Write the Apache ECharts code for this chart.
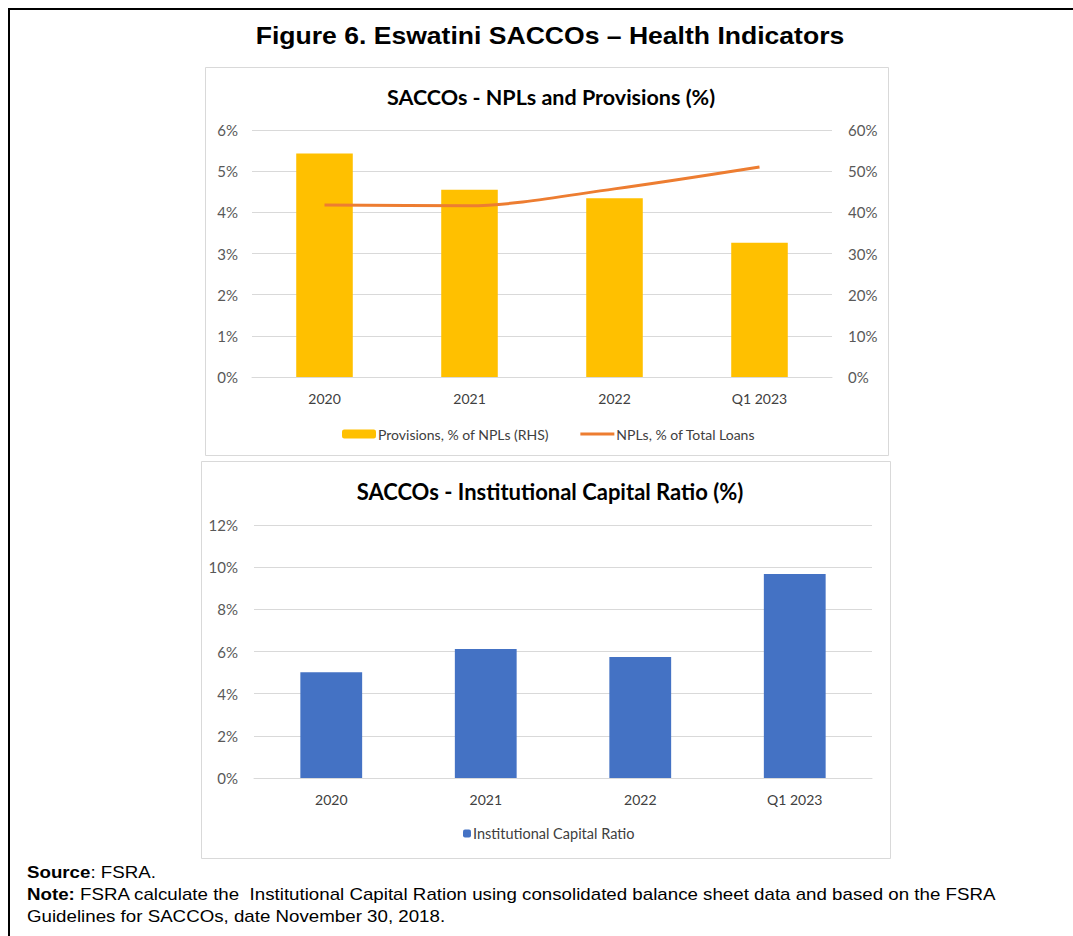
<!DOCTYPE html>
<html>
<head>
<meta charset="utf-8">
<script src="https://cdn.jsdelivr.net/npm/echarts@6/dist/echarts.min.js"></script>
<style>
  html, body { margin: 0; padding: 0; background: #ffffff; }
  #chart { width: 1073px; height: 936px; }
</style>
</head>
<body>
<div id="chart"></div>
<script>
// Periods shown on both panels
const categories = ['2020', '2021', '2022', 'Q1 2023'];
// Provisions as % of NPLs (right-hand axis)
const provisions = [54.3, 45.5, 43.4, 32.6];
// NPLs as % of total loans (left-hand axis)
const npls = [4.18, 4.16, 4.57, 5.10];
// Institutional capital ratio (%)
const capitalRatio = [5.02, 6.12, 5.74, 9.68];

const chartFont = 'Lato';
const axisGrey = '#595959';
const gridGrey = '#d9d9d9';
const wide = 1.155; // horizontal stretch of the Arial text blocks

const chart = echarts.init(document.getElementById('chart'), null, { renderer: 'svg' });

function noteText(y, text) {
  return {
    type: 'text', x: 27, y: y, scaleX: 1.17, z: 5,
    style: {
      x: 0, y: 0, text: text, verticalAlign: 'middle',
      font: '16px "Liberation Sans"', fill: '#000',
      rich: { b: { fontWeight: 'bold', fontFamily: 'Liberation Sans', fontSize: 16 } }
    }
  };
}

chart.setOption({
  animation: false,
  textStyle: { fontFamily: chartFont },
  graphic: [
    // outer frame
    { type: 'polyline', shape: { points: [[9, 940], [9, 9], [1080, 9]] },
      style: { stroke: '#000', lineWidth: 2, fill: null }, z: 0 },
    // panel frames
    { type: 'rect', shape: { x: 205.5, y: 67.5, width: 683, height: 388 },
      style: { stroke: gridGrey, lineWidth: 1, fill: '#fff' }, z: 0 },
    { type: 'rect', shape: { x: 201.5, y: 461.5, width: 689, height: 397 },
      style: { stroke: gridGrey, lineWidth: 1, fill: '#fff' }, z: 0 },
    // figure heading
    { type: 'text', x: 550, y: 36, scaleX: wide, z: 5,
      style: { x: 0, y: 0, text: 'Figure 6. Eswatini SACCOs – Health Indicators',
        align: 'center', verticalAlign: 'middle',
        font: 'bold 23px "Liberation Sans"', fill: '#000' } },
    // footnotes
    noteText(872, '{b|Source}: FSRA.'),
    noteText(894, '{b|Note:} FSRA calculate the  Institutional Capital Ration using consolidated balance sheet data and based on the FSRA'),
    noteText(916, 'Guidelines for SACCOs, date November 30, 2018.')
  ],
  title: [
    { text: 'SACCOs - NPLs and Provisions (%)', left: 546, top: 81, textAlign: 'center',
      textStyle: { fontFamily: chartFont, fontWeight: 'bold', fontSize: 21.5, color: '#000' } },
    { text: 'SACCOs - Institutional Capital Ratio (%)', left: 545, top: 475, textAlign: 'center',
      textStyle: { fontFamily: chartFont, fontWeight: 'bold', fontSize: 22, color: '#000' } }
  ],
  legend: [
    { left: 342, top: 427, padding: 0, itemWidth: 34, itemHeight: 9, itemGap: 30,
      data: [
        { name: 'Provisions, % of NPLs (RHS)' },
        { name: 'NPLs, % of Total Loans', itemStyle: { opacity: 0 }, lineStyle: { width: 3 } }
      ],
      textStyle: { fontFamily: chartFont, fontSize: 14, color: '#404040', padding: [0, 0, 0, -3] } },
    { left: 463, top: 826, padding: 0, itemWidth: 8, itemHeight: 8,
      data: ['Institutional Capital Ratio'],
      textStyle: { fontFamily: chartFont, fontSize: 14.5, color: '#404040', padding: [0, 0, 0, -3] } }
  ],
  grid: [
    { left: 252, right: 241, top: 130, height: 247 },
    { left: 254, right: 201, top: 525, height: 253 }
  ],
  xAxis: [
    { type: 'category', gridIndex: 0, data: categories,
      axisLine: { lineStyle: { color: gridGrey } }, axisTick: { show: false },
      axisLabel: { color: '#404040', fontSize: 14, margin: 14 } },
    { type: 'category', gridIndex: 1, data: categories,
      axisLine: { lineStyle: { color: gridGrey } }, axisTick: { show: false },
      axisLabel: { color: '#404040', fontSize: 14, margin: 14 } }
  ],
  yAxis: [
    { type: 'value', gridIndex: 0, min: 0, max: 6, interval: 1, position: 'left',
      axisLabel: { formatter: '{value}%', color: axisGrey, fontSize: 15, margin: 14 },
      splitLine: { lineStyle: { color: gridGrey } } },
    { type: 'value', gridIndex: 0, min: 0, max: 60, interval: 10, position: 'right',
      axisLabel: { formatter: '{value}%', color: axisGrey, fontSize: 15, margin: 16 },
      splitLine: { show: false } },
    { type: 'value', gridIndex: 1, min: 0, max: 12, interval: 2,
      axisLabel: { formatter: '{value}%', color: axisGrey, fontSize: 15, margin: 16 },
      splitLine: { lineStyle: { color: gridGrey } } }
  ],
  series: [
    { name: 'Provisions, % of NPLs (RHS)', type: 'bar', xAxisIndex: 0, yAxisIndex: 1,
      data: provisions, barWidth: '39%', itemStyle: { color: '#FFC000' }, z: 2 },
    { name: 'NPLs, % of Total Loans', type: 'line', xAxisIndex: 0, yAxisIndex: 0,
      data: npls, smooth: 0.3, symbol: 'none',
      lineStyle: { color: '#ED7D31', width: 3 }, itemStyle: { color: '#ED7D31' }, z: 3 },
    { name: 'Institutional Capital Ratio', type: 'bar', xAxisIndex: 1, yAxisIndex: 2,
      data: capitalRatio, barWidth: '40%', itemStyle: { color: '#4472C4' } }
  ]
});
</script>
</body>
</html>
